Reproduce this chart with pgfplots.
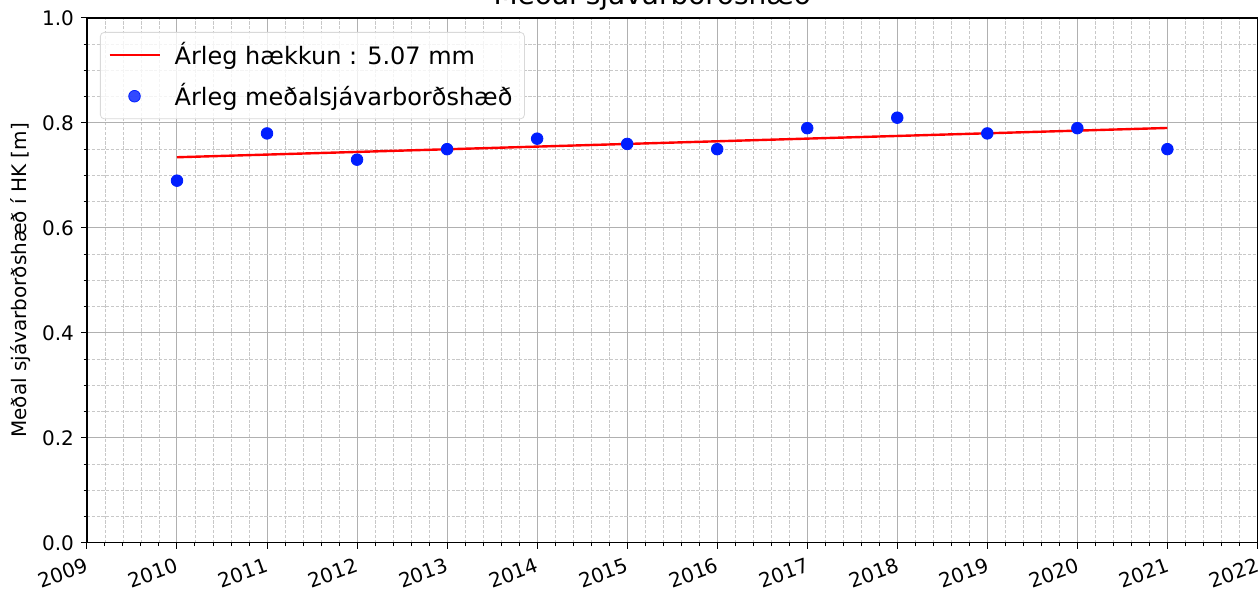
\documentclass[border=0pt]{standalone}
\usepackage{pgfplots}
\pgfplotsset{compat=1.18}
\usepackage{fontspec}
\setmainfont{DejaVu Sans}
\definecolor{majgrid}{RGB}{176,176,176}
\definecolor{mingrid}{RGB}{200,200,200}
\definecolor{ptblue}{RGB}{0,30,255}
\pgfplotsset{
  mylineleg/.style={legend image code/.code={\draw[##1] (0pt,0pt) -- (25pt,0pt);}},
  mymarkleg/.style={legend image code/.code={\draw[mark repeat=2,mark phase=2,##1] plot coordinates {(0pt,0pt) (12.5pt,0pt) (25pt,0pt)};}},
}
\begin{document}
\begin{tikzpicture}
\begin{axis}[
  scale only axis, width=585.5pt, height=262.5pt,
  xmin=2009, xmax=2022, ymin=0, ymax=1,
  xtick={2009,2010,2011,2012,2013,2014,2015,2016,2017,2018,2019,2020,2021,2022},
  ytick={0,0.2,0.4,0.6,0.8,1.0},
  minor x tick num=4, minor y tick num=3,
  grid=both,
  major grid style={solid, color=majgrid, line width=0.5pt},
  minor grid style={dash pattern=on 1.6pt off 0.8pt, color=mingrid, line width=0.35pt},
  axis line style={line width=0.6pt},
  tick align=outside, tick pos=left,
  major tick length=3pt, minor tick length=1.7pt,
  every tick/.style={black, line width=0.5pt},
  /pgf/number format/assume math mode=true,
  xticklabel style={rotate=20, anchor=north east, font=\fontsize{10}{11}\selectfont, /pgf/number format/1000 sep={}, xshift=1pt},
  yticklabel style={font=\fontsize{10}{11}\selectfont, /pgf/number format/.cd, fixed, fixed zerofill, precision=1},
  ylabel={Meðal sjávarborðshæð í HK [m]},
  every axis y label/.style={at={(rel axis cs:0,0.5)}, xshift=-33pt, rotate=90, anchor=center, font=\fontsize{10}{11}\selectfont},
  legend style={at={(0,1)}, anchor=north west, xshift=6.5pt, yshift=-7pt,
    rounded corners=2pt, draw=black!15, fill=white, fill opacity=0.8, text opacity=1,
    font=\fontsize{12}{13}\selectfont, row sep=4pt, column sep=5pt, inner xsep=4pt, inner ysep=3pt},
  legend cell align=left,
]
\addplot[red, line width=1.2pt, mylineleg]
  coordinates {(2010,0.7346) (2021,0.7904)};
\addlegendentry{Árleg hækkun : 5.07 mm}
\addplot[only marks, mark=*, mark size=2.9pt, draw=ptblue, fill=ptblue, mymarkleg]
  coordinates {
  (2010,0.69) (2011,0.78) (2012,0.73) (2013,0.75) (2014,0.77) (2015,0.76)
  (2016,0.75) (2017,0.79) (2018,0.81) (2019,0.78) (2020,0.79) (2021,0.75)};
\addlegendentry{Árleg meðalsjávarborðshæð}
\coordinate (tt) at (rel axis cs:0.483,1);
\coordinate (sw) at (rel axis cs:0,0);
\coordinate (ne) at (rel axis cs:1,1);
\end{axis}
\node[anchor=base, font=\fontsize{14}{16}\selectfont] at ([yshift=6.5pt]tt) {Meðal sjávarborðshæð};
\pgfresetboundingbox
\useasboundingbox ([xshift=-43.5pt,yshift=-24.5pt]sw) rectangle ([xshift=0.3pt,yshift=9pt]ne);
\end{tikzpicture}
\end{document}
